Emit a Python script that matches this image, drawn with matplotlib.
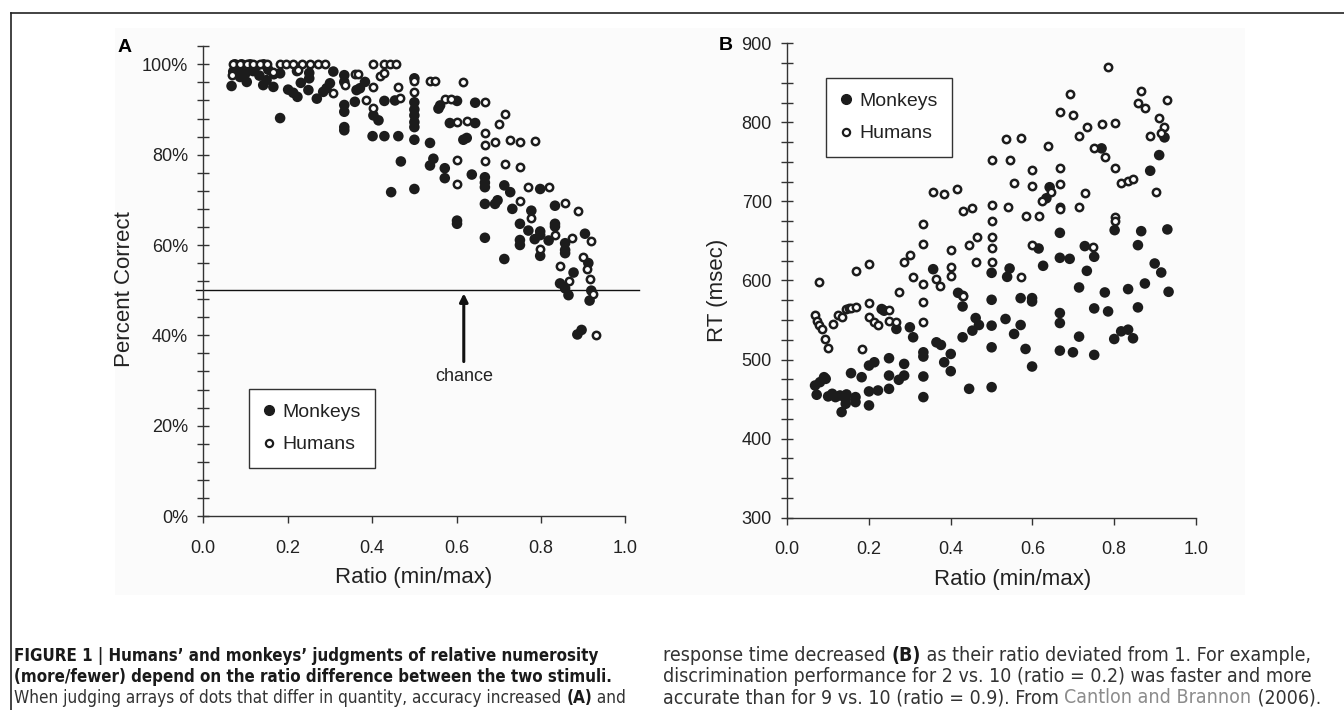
import numpy as np
import matplotlib
matplotlib.use('Agg')
import matplotlib.pyplot as plt
from matplotlib.lines import Line2D
from matplotlib.patches import Rectangle

plt.rcParams['font.family'] = ['Liberation Sans', 'DejaVu Sans']

W, H, DPI = 1344, 710, 100
INK = '#1c1c1c'
CAPTION_FONT = ['DejaVu Sans']

# ── Panel A: percent correct vs ratio ─────────────────────────────
acc_monkey_x = [0.067, 0.071, 0.075, 0.083, 0.087, 0.091, 0.100, 0.103, 0.111, 0.118,
                0.125, 0.133, 0.143, 0.142, 0.150, 0.154, 0.166, 0.167, 0.182, 0.182,
                0.201, 0.213, 0.223, 0.231, 0.222, 0.249, 0.251, 0.251, 0.269, 0.284,
                0.292, 0.300, 0.308,
                0.334, 0.334, 0.334, 0.334, 0.334, 0.334,
                0.359, 0.363, 0.371, 0.383, 0.401, 0.403, 0.415, 0.429, 0.429, 0.445,
                0.462, 0.468, 0.454,
                0.500, 0.500, 0.500, 0.500, 0.500, 0.500, 0.500, 0.500,
                0.537, 0.537, 0.545, 0.572, 0.572, 0.557, 0.561, 0.584, 0.601, 0.601,
                0.601, 0.616, 0.624, 0.636, 0.644, 0.644,
                0.667, 0.667, 0.667, 0.667, 0.667,
                0.691, 0.697, 0.713, 0.727, 0.713, 0.732,
                0.750, 0.750, 0.750, 0.770, 0.777, 0.785,
                0.798, 0.798, 0.798, 0.798, 0.818,
                0.833, 0.833, 0.833, 0.857, 0.857, 0.857,
                0.845, 0.857, 0.865, 0.877, 0.912, 0.904, 0.919, 0.915, 0.886, 0.896]
acc_monkey_y = [95.2, 98.4, 100.0, 99.0, 97.2, 100.0, 98.0, 96.1, 100.0, 98.5,
                99.5, 97.5, 100.0, 95.4, 96.5, 98.8, 95.0, 97.8, 88.1, 98.0,
                94.4, 93.7, 92.8, 95.9, 98.5, 94.3, 98.1, 96.9, 92.4, 93.9,
                94.7, 95.8, 98.4,
                97.6, 96.1, 91.0, 89.5, 86.1, 85.4,
                91.7, 94.3, 94.7, 96.1, 84.1, 88.7, 87.6, 84.1, 91.9, 71.7,
                84.1, 78.5, 92.0,
                72.4, 83.3, 96.9, 91.6, 90.0, 88.7, 87.2, 86.1,
                82.6, 77.6, 79.1, 77.0, 74.8, 90.2, 90.9, 87.0, 91.9, 65.4,
                64.7, 83.3, 83.7, 75.6, 87.0, 91.5,
                75.0, 73.8, 72.8, 69.1, 61.6,
                69.1, 69.9, 73.2, 71.7, 56.9, 68.0,
                64.7, 61.1, 60.0, 63.2, 67.6, 61.3,
                72.4, 63.0, 62.2, 57.6, 61.0,
                68.7, 64.7, 64.1, 60.4, 58.9, 58.2,
                51.5, 50.4, 48.9, 53.9, 56.0, 62.5, 49.9, 47.7, 40.2, 41.2]

acc_human_x = [0.071, 0.087, 0.103, 0.118, 0.134, 0.150, 0.182, 0.197, 0.213, 0.233,
               0.253, 0.272, 0.288, 0.401, 0.429, 0.443, 0.456,
               0.067, 0.166, 0.224, 0.308, 0.359, 0.367, 0.336, 0.385, 0.401, 0.401,
               0.418, 0.429, 0.462, 0.466, 0.500, 0.500, 0.536, 0.548, 0.572, 0.586,
               0.616, 0.601, 0.624, 0.667, 0.667, 0.667, 0.691, 0.727, 0.751, 0.786,
               0.714, 0.700, 0.667, 0.601, 0.601, 0.714, 0.751, 0.770, 0.819, 0.751,
               0.857, 0.888, 0.777, 0.833, 0.874, 0.919, 0.798, 0.899, 0.845, 0.909,
               0.917, 0.866, 0.922, 0.929]
acc_human_y = [100.0, 100.0, 100.0, 100.0, 100.0, 100.0, 100.0, 100.0, 100.0, 100.0,
               100.0, 100.0, 100.0, 100.0, 100.0, 100.0, 100.0,
               97.6, 98.4, 98.7, 93.7, 97.8, 97.8, 95.4, 92.2, 95.0, 90.4,
               97.4, 98.0, 95.0, 92.6, 93.9, 96.4, 96.3, 96.3, 92.4, 92.4,
               96.1, 87.2, 87.4, 84.7, 82.2, 78.5, 82.8, 83.2, 82.8, 83.0,
               88.9, 86.7, 91.7, 78.8, 73.6, 78.0, 77.3, 72.8, 72.8, 69.7,
               69.2, 67.5, 66.0, 62.2, 61.5, 60.8, 59.2, 57.3, 55.4, 54.6,
               52.5, 52.0, 49.1, 40.1]

CHANCE = 50
ARROW_X, ARROW_TIP, ARROW_TAIL, CHANCE_TEXT_Y = 0.617, 49.3, 34.2, 31.0

# ── Panel B: response time vs ratio ───────────────────────────────
rt_monkey_x = [0.068, 0.072, 0.080, 0.090, 0.094, 0.100, 0.110, 0.118, 0.129, 0.143,
               0.145, 0.133, 0.143, 0.167, 0.167, 0.156, 0.182, 0.200, 0.213, 0.200,
               0.200, 0.222, 0.231, 0.237, 0.249, 0.249, 0.249, 0.267, 0.273, 0.286,
               0.286, 0.300, 0.308, 0.333, 0.333, 0.333, 0.333, 0.365, 0.376, 0.384,
               0.400, 0.400, 0.429, 0.429, 0.445, 0.461, 0.469, 0.453, 0.500, 0.500,
               0.500, 0.500, 0.534, 0.555, 0.571, 0.571, 0.583, 0.599, 0.599, 0.599,
               0.667, 0.667, 0.667, 0.699, 0.714, 0.714, 0.751, 0.751, 0.777, 0.785,
               0.800, 0.817, 0.834, 0.846, 0.834, 0.858, 0.875, 0.933,
               0.357, 0.418, 0.430, 0.500, 0.544, 0.538, 0.626, 0.615, 0.634, 0.642,
               0.667, 0.667, 0.691, 0.728, 0.751, 0.733, 0.769, 0.801, 0.858, 0.866,
               0.888, 0.899, 0.915, 0.910, 0.923, 0.930]
rt_monkey_y = [467.2, 455.5, 471.4, 477.7, 475.6, 453.4, 456.7, 452.5, 454.6, 449.6,
               455.9, 433.6, 444.1, 452.5, 446.2, 482.8, 477.7, 492.4, 496.6, 459.7,
               442.0, 460.9, 563.9, 561.8, 501.7, 479.8, 463.0, 538.7, 474.4, 479.8,
               494.5, 540.8, 528.2, 509.2, 503.8, 478.6, 452.5, 521.8, 518.5, 496.6,
               507.1, 485.3, 567.2, 528.2, 463.0, 552.5, 543.7, 536.6, 575.6, 542.9,
               515.5, 465.1, 551.3, 532.4, 577.7, 543.7, 513.4, 577.7, 573.5, 491.2,
               558.8, 546.2, 511.3, 509.2, 591.2, 529.0, 564.7, 505.9, 584.9, 560.9,
               526.0, 535.7, 537.8, 526.9, 589.1, 566.0, 596.2, 585.7,
               614.3, 584.4, 580.6, 609.7, 615.2, 604.6, 618.6, 640.5, 704.0, 718.0,
               660.3, 628.7, 627.4, 643.5, 630.0, 612.2, 767.1, 663.7, 644.7, 662.4,
               738.8, 621.5, 610.1, 758.6, 781.0, 664.6]

rt_human_x = [0.077, 0.068, 0.072, 0.078, 0.084, 0.092, 0.100, 0.111, 0.125, 0.133,
              0.143, 0.151, 0.157, 0.167, 0.182, 0.200, 0.200, 0.213, 0.222, 0.249,
              0.249, 0.267, 0.273, 0.333, 0.333, 0.430,
              0.167, 0.200, 0.285, 0.300, 0.308, 0.333, 0.333, 0.333, 0.357, 0.384,
              0.416, 0.365, 0.373, 0.400, 0.400, 0.400, 0.429, 0.453, 0.445, 0.465,
              0.461, 0.500, 0.500, 0.500, 0.500, 0.500, 0.500,
              0.534, 0.571, 0.544, 0.555, 0.540, 0.571, 0.599, 0.599, 0.583, 0.615,
              0.599, 0.637, 0.624, 0.645,
              0.667, 0.667, 0.667, 0.667, 0.667,
              0.691, 0.699, 0.714, 0.733, 0.728, 0.714, 0.751, 0.777, 0.769, 0.801,
              0.785, 0.801, 0.801, 0.801, 0.817, 0.834, 0.846, 0.858, 0.866, 0.876,
              0.888, 0.910, 0.901, 0.923, 0.915, 0.930, 0.748]
rt_human_y = [597.5, 556.7, 549.2, 543.7, 538.7, 526.0, 514.7, 545.0, 556.3, 553.4,
              563.9, 564.7, 565.1, 566.8, 513.4, 571.0, 553.4, 547.9, 543.7, 562.6,
              548.3, 547.1, 584.9, 572.3, 547.9, 579.8,
              612.2, 620.3, 622.8, 632.0, 604.6, 671.3, 646.0, 595.4, 712.2, 710.0,
              715.6, 601.3, 592.8, 638.4, 616.5, 605.5, 688.2, 691.1, 644.7, 654.4,
              622.8, 752.3, 695.4, 675.5, 655.3, 640.5, 623.6,
              778.9, 780.6, 752.3, 722.8, 692.4, 604.6, 739.7, 719.8, 681.9, 681.9,
              644.7, 770.0, 700.8, 712.0,
              813.5, 741.8, 721.5, 693.2, 690.3,
              835.9, 809.3, 783.1, 793.7, 710.1, 692.4, 767.1, 755.7, 797.9, 798.7,
              869.6, 741.8, 680.6, 675.5, 722.8, 726.2, 728.3, 824.9, 839.7, 817.7,
              782.7, 805.1, 711.4, 793.7, 786.1, 828.3, 641.8]

# caption lines: (pieces, left x px, baseline y px, width in the original)
caption_head = [
    ([("FIGURE 1 | Humans’ and monkeys’ judgments of relative numerosity", 'bold', '#1a1a1a')],
     14, 661, 587),
    ([("(more/fewer) depend on the ratio difference between the two stimuli.", 'bold', '#1a1a1a')],
     14, 682, 609),
]
caption_left_body = [
    ([("When judging arrays of dots that differ in quantity, accuracy increased ", 'normal', '#333333'),
      ("(A)", 'bold', '#1a1a1a'), (" and", 'normal', '#333333')], 14, 703, 611),
]
caption_right_body = [
    ([("response time decreased ", 'normal', '#333333'), ("(B)", 'bold', '#1a1a1a'),
      (" as their ratio deviated from 1. For example,", 'normal', '#333333')], 663, 661, 644),
    ([("discrimination performance for 2 vs. 10 (ratio = 0.2) was faster and more", 'normal', '#333333')],
     663, 682, 647),
    ([("accurate than for 9 vs. 10 (ratio = 0.9). From ", 'normal', '#333333'),
      ("Cantlon and Brannon", 'normal', '#8c8c8c'), (" (2006).", 'normal', '#333333')],
     663, 703, 657),
]


def px_rect(x0, y0, x1, y1):
    """Pixel box (top-left origin) -> figure fraction rect."""
    return [x0 / W, 1 - y1 / H, (x1 - x0) / W, (y1 - y0) / H]


def style_axes(ax, xlim, ylim, ybounds, yticks, yminor, ylabels):
    ax.set_facecolor('none')
    ax.set_xlim(*xlim)
    ax.set_ylim(*ylim)
    for s in ('top', 'right'):
        ax.spines[s].set_visible(False)
    ax.spines['left'].set_position(('data', 0))
    ax.spines['left'].set_bounds(*ybounds)
    ax.spines['bottom'].set_position(('data', ybounds[0]))
    ax.spines['bottom'].set_bounds(0, 1)
    for s in ('left', 'bottom'):
        ax.spines[s].set_color('#333333')
        ax.spines[s].set_linewidth(1.0)
    ax.set_xticks(np.arange(0, 1.01, 0.2))
    ax.set_xticklabels([f'{v:.1f}' for v in np.arange(0, 1.01, 0.2)])
    ax.set_yticks(yticks)
    ax.set_yticklabels(ylabels)
    ax.set_yticks(yminor, minor=True)
    ax.tick_params(axis='y', which='both', direction='inout', length=8, width=1,
                   color='#333333', pad=7, labelsize=13, labelcolor='#222222')
    ax.tick_params(axis='x', which='both', direction='out', length=5, width=1,
                   color='#333333', pad=12, labelsize=13, labelcolor='#222222')


def scatter_pair(ax, mx, my, hx, hy):
    ax.scatter(mx, my, s=58, color=INK, edgecolors='none', zorder=3, label='Monkeys')
    ax.scatter(hx, hy, s=28, facecolors='white', edgecolors=INK, linewidths=1.8,
               zorder=4, label='Humans')


def add_legend(ax, fig, x0, y0):
    handles = [Line2D([], [], marker='o', ls='none', color=INK, markersize=7),
               Line2D([], [], marker='o', ls='none', markerfacecolor='white',
                      markeredgecolor=INK, markeredgewidth=1.6, markersize=5.2)]
    leg = ax.legend(handles, ['Monkeys', 'Humans'], loc='upper left',
                    bbox_to_anchor=(x0 / W, 1 - y0 / H), bbox_transform=fig.transFigure,
                    fontsize=14, frameon=True, fancybox=False, borderaxespad=0,
                    handlelength=0.6, handletextpad=0.35, labelspacing=0.75,
                    borderpad=0.75)
    frame = leg.get_frame()
    frame.set_edgecolor('#333333')
    frame.set_linewidth(1.0)
    frame.set_alpha(1)
    for t in leg.get_texts():
        t.set_color('#222222')
    return leg


def line_width(fig, renderer, parts, size):
    total = 0
    for text, weight, color in parts:
        t = fig.text(0, 0, text, fontsize=size, fontweight=weight,
                     family=CAPTION_FONT, fontstretch='condensed')
        total += t.get_window_extent(renderer=renderer).width
        t.remove()
    return total


def rich_line(fig, renderer, x_px, y_px, parts, size):
    x = x_px
    for text, weight, color in parts:
        t = fig.text(x / W, 1 - y_px / H, text, fontsize=size, fontweight=weight,
                     color=color, family=CAPTION_FONT, fontstretch='condensed',
                     ha='left', va='baseline')
        x += t.get_window_extent(renderer=renderer).width


fig = plt.figure(figsize=(W / DPI, H / DPI), dpi=DPI)
fig.patch.set_facecolor('white')

# pale background of the pasted chart image
fig.patches.append(Rectangle((115 / W, 1 - 595 / H), 1130 / W, 567 / H,
                             transform=fig.transFigure, facecolor='#fbfbfb',
                             edgecolor='none', zorder=-5))
# outer frame (only top and left visible)
fig.add_artist(Line2D([11 / W, 1], [1 - 12.5 / H] * 2, transform=fig.transFigure,
                      color='#222222', lw=1.2))
fig.add_artist(Line2D([11 / W] * 2, [0, 1 - 12.5 / H], transform=fig.transFigure,
                      color='#222222', lw=1.2))

# ── Panel A ────────────────────────────────────────────────────────
axA = fig.add_axes(px_rect(190.6, 32.7, 646.6, 529.6))
style_axes(axA, (-0.03, 1.05), (-3, 107), (0, 104), range(0, 101, 20),
           np.arange(0, 105, 4), [f'{v}%' for v in range(0, 101, 20)])
scatter_pair(axA, acc_monkey_x, acc_monkey_y, acc_human_x, acc_human_y)
axA.axhline(CHANCE, xmin=0.012, xmax=0.983, color='#111111', lw=1.0, zorder=2)
axA.annotate('', xy=(ARROW_X, ARROW_TIP), xytext=(ARROW_X, ARROW_TAIL),
             arrowprops=dict(arrowstyle='-|>', color='#111111', lw=2.2,
                             mutation_scale=12, shrinkA=0, shrinkB=0))
axA.text(ARROW_X, CHANCE_TEXT_Y, 'chance', ha='center', va='center', fontsize=13,
         color='#222222')
add_legend(axA, fig, 249, 389)

# ── Panel B ────────────────────────────────────────────────────────
axB = fig.add_axes(px_rect(775.0, 35.4, 1216.4, 525.6))
style_axes(axB, (-0.03, 1.05), (290, 910), (300, 900), range(300, 901, 100),
           np.arange(300, 901, 25), [str(v) for v in range(300, 901, 100)])
scatter_pair(axB, rt_monkey_x, rt_monkey_y, rt_human_x, rt_human_y)
add_legend(axB, fig, 826, 78)

# labels
fig.text(125 / W, 1 - 48 / H, 'A', fontsize=14, fontweight='bold', ha='center', va='center')
fig.text(726 / W, 1 - 46 / H, 'B', fontsize=14, fontweight='bold', ha='center', va='center')
fig.text(125 / W, 1 - 289 / H, 'Percent Correct', rotation=90, fontsize=16,
         ha='center', va='center', color='#222222')
fig.text(718 / W, 1 - 290 / H, 'RT (msec)', rotation=90, fontsize=16,
         ha='center', va='center', color='#222222')
fig.text(414 / W, 1 - 578 / H, 'Ratio (min/max)', fontsize=16, ha='center',
         va='center', color='#222222')
fig.text(1013 / W, 1 - 580 / H, 'Ratio (min/max)', fontsize=16, ha='center',
         va='center', color='#222222')

# caption: one font size per group, fitted to the original line widths
renderer = fig.canvas.get_renderer()
for group in (caption_head, caption_left_body, caption_right_body):
    size = min(13 * w / line_width(fig, renderer, parts, 13) for parts, _, _, w in group)
    for parts, x0, y0, _ in group:
        rich_line(fig, renderer, x0, y0, parts, size)

fig.savefig('out.png', dpi=DPI, facecolor='white')
